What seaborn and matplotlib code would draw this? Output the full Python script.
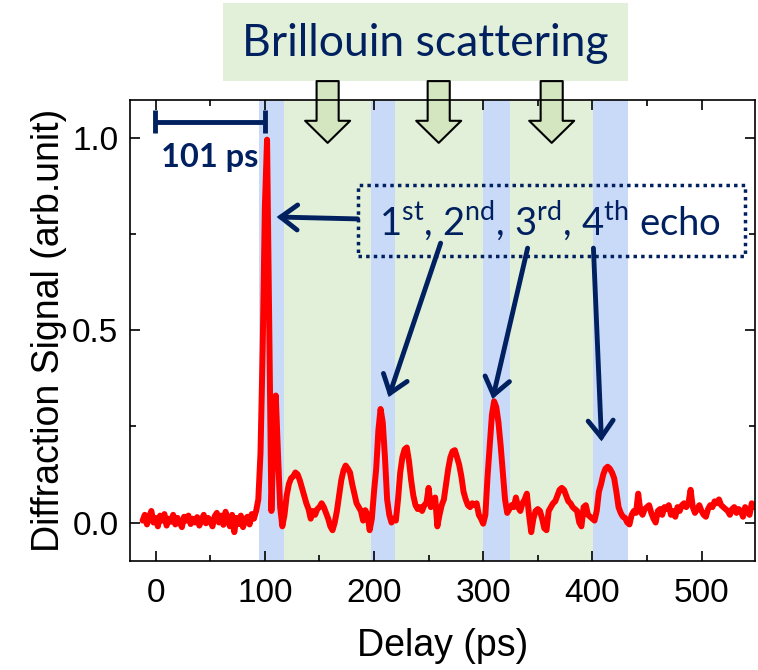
import numpy as np
import pandas as pd
import seaborn as sns
import matplotlib.pyplot as plt
from matplotlib.patches import Rectangle
from matplotlib.ticker import MultipleLocator

# diffraction signal, every 2 ps starting at -12 ps
signal = [
    0.005, 0.020, -0.005, 0.015, 0.030, 0.000, 0.012, -0.010, 0.018, 0.005,
    0.022, -0.008, 0.010, 0.002, 0.020, -0.005, 0.012, 0.000, -0.012, 0.015,
    0.005, 0.018, -0.004, 0.010, 0.000, 0.014, -0.008, 0.006, 0.020, -0.002,
    0.012, 0.004, -0.010, 0.016, 0.025, 0.000, 0.018, -0.006, 0.028, 0.008,
    -0.010, 0.020, -0.025, 0.012, -0.004, 0.018, -0.012, 0.008, 0.015, -0.005,
    0.022, 0.010, 0.030, 0.060, 0.180, 0.450, 0.820, 0.995, 0.500, 0.030,
    0.220, 0.330, 0.180, 0.040, -0.010, 0.020, 0.070, 0.100, 0.115, 0.120,
    0.130, 0.125, 0.110, 0.090, 0.070, 0.050, 0.035, 0.010, 0.030, 0.020,
    0.035, 0.040, 0.050, 0.040, 0.025, 0.010, -0.010, -0.020, 0.000, 0.030,
    0.070, 0.110, 0.135, 0.148, 0.140, 0.130, 0.100, 0.075, 0.050, 0.040,
    0.030, 0.005, 0.032, 0.020, -0.020, 0.010, 0.080, 0.140, 0.240, 0.295,
    0.260, 0.170, 0.060, 0.020, 0.000, 0.010, 0.005, 0.060, 0.130, 0.170,
    0.190, 0.195, 0.160, 0.110, 0.070, 0.045, 0.035, 0.040, 0.030, 0.045,
    0.050, 0.090, 0.040, 0.060, 0.065, -0.010, 0.020, 0.045, 0.060, 0.100,
    0.140, 0.170, 0.185, 0.188, 0.170, 0.150, 0.120, 0.080, 0.060, 0.045,
    0.040, 0.050, 0.045, 0.050, 0.020, 0.010, -0.003, 0.020, 0.120, 0.200,
    0.280, 0.315, 0.300, 0.260, 0.200, 0.130, 0.060, 0.025, 0.035, 0.045,
    0.040, 0.065, 0.040, 0.030, 0.050, 0.060, 0.075, 0.020, -0.025, 0.010,
    0.030, 0.035, 0.030, 0.010, -0.015, -0.020, 0.030, 0.040, 0.050, 0.055,
    0.070, 0.085, 0.090, 0.085, 0.070, 0.055, 0.050, 0.040, 0.035, 0.030,
    0.000, -0.010, 0.040, 0.045, 0.020, 0.015, 0.010, 0.005, 0.030, 0.080,
    0.100, 0.125, 0.140, 0.145, 0.140, 0.130, 0.115, 0.080, 0.040, 0.025,
    0.015, 0.012, 0.000, -0.005, 0.020, 0.030, 0.025, 0.075, 0.030, 0.020,
    0.035, 0.040, 0.045, 0.025, 0.010, 0.000, 0.030, 0.035, 0.020, 0.040,
    0.035, 0.045, 0.020, 0.030, 0.015, 0.040, 0.030, 0.045, 0.050, 0.040,
    0.050, 0.085, 0.040, 0.025, 0.035, 0.045, 0.030, 0.020, 0.015, 0.035,
    0.045, 0.040, 0.055, 0.050, 0.060, 0.045, 0.040, 0.035, 0.030, 0.020,
    0.035, 0.040, 0.025, 0.035, 0.030, 0.015, 0.040, 0.030, 0.020, 0.050,
    0.040,
]
delay = -12 + 2 * np.arange(len(signal))
df = pd.DataFrame({"delay": delay, "signal": signal})

# echo windows (blue), Brillouin windows (green) lie between them
echo_bands = [(95, 117.5), (197.5, 219), (299.5, 325), (400.5, 432.5)]
# echo arrows: (tail x, tail y, tip x, tip y)
echo_arrows = [(185, 0.789, 110.8, 0.794),
               (261, 0.726, 213.4, 0.326),
               (340.7, 0.713, 308.6, 0.321),
               (401, 0.713, 408.4, 0.211)]
scale_bar = (-1, 100)

navy = "#002060"
blue = "#c9daf8"
green = "#e2f0d9"

sns.set_theme(style="ticks")
plt.rcParams["font.family"] = ["Liberation Sans", "DejaVu Sans"]
plt.rcParams["mathtext.fontset"] = "custom"
plt.rcParams["mathtext.rm"] = "Lato"
for key in ["text.color", "axes.labelcolor", "xtick.color", "ytick.color"]:
    plt.rcParams[key] = "black"

fig = plt.figure(figsize=(7.58, 6.70), dpi=100)
ax = fig.add_axes([129.5 / 758, 1 - 561 / 670, 625.5 / 758, 461 / 670])

for a, b in echo_bands:
    ax.axvspan(a, b, color=blue, lw=0, zorder=0)
for (a0, b0), (a1, b1) in zip(echo_bands[:-1], echo_bands[1:]):
    ax.axvspan(b0, a1, color=green, lw=0, zorder=0)

sns.lineplot(data=df, x="delay", y="signal", color="red", lw=4.3, ax=ax,
             estimator=None, zorder=3)

ax.set_xlim(-24, 549)
ax.set_ylim(-0.1, 1.098)
ax.xaxis.set_major_locator(MultipleLocator(100))
ax.xaxis.set_minor_locator(MultipleLocator(50))
ax.yaxis.set_major_locator(MultipleLocator(0.5))
ax.yaxis.set_minor_locator(MultipleLocator(0.25))
ax.tick_params(which="both", direction="in", top=True, right=True,
               labelsize=24, width=1.2, color="black", labelcolor="black")
ax.tick_params(which="major", length=7)
ax.tick_params(which="minor", length=4)
ax.tick_params(axis="x", pad=12)
ax.tick_params(axis="y", pad=8)
for s in ax.spines.values():
    s.set_linewidth(1.2)
    s.set_color("black")
    s.set_zorder(5)
ax.set_xlabel("Delay (ps)", fontsize=27, labelpad=14, color="black")
ax.set_ylabel("Diffraction Signal (arb.unit)", fontsize=27, labelpad=4, color="black")

# Brillouin label box above the axes
trans = ax.get_xaxis_transform()
box_x0 = 62
box_x1 = echo_bands[-1][1]
ax.add_patch(Rectangle((box_x0, 1.041), box_x1 - box_x0, 0.17, transform=trans,
                       facecolor=green, edgecolor="none", clip_on=False, zorder=1))
ax.text((box_x0 + box_x1) / 2, 1.123, "Brillouin scattering", transform=trans,
        ha="center", va="center", fontsize=32, color=navy, family="Lato")
for (a0, b0), (a1, b1) in zip(echo_bands[:-1], echo_bands[1:]):
    xc = (b0 + a1) / 2
    ax.annotate("", xy=(xc, 0.907), xytext=(xc, 1.041), xycoords=trans,
                textcoords=trans, annotation_clip=False,
                arrowprops=dict(arrowstyle="simple,head_length=0.53,head_width=1.08,tail_width=0.53",
                                mutation_scale=30, fc="#d3e6bf", ec="black", lw=1.5,
                                shrinkA=0, shrinkB=0), zorder=4)

# 101 ps scale bar
ax.plot(scale_bar, [1.042, 1.042], color=navy, lw=3.5, solid_capstyle="butt", zorder=4)
for xb in scale_bar:
    ax.plot([xb, xb], [1.012, 1.072], color=navy, lw=3.5, solid_capstyle="butt", zorder=4)
ax.text(49.4, 0.923, "101 ps", ha="center", va="baseline", fontsize=23.5,
        fontweight="bold", color=navy, family="Lato", zorder=4)

# echo label with dotted box
ax.add_patch(Rectangle((185, 0.692), 354.4, 0.185, facecolor="none", edgecolor=navy,
                       lw=2.5, linestyle=(0, (1, 1.2)), clip_on=False, zorder=4))
ax.text(360.8, 0.747, r"1$^{\mathrm{st}}$, 2$^{\mathrm{nd}}$, 3$^{\mathrm{rd}}$, 4$^{\mathrm{th}}$ echo",
        ha="center", va="baseline", fontsize=27.5, color=navy, family="Lato", zorder=4)
for x0, y0, x1, y1 in echo_arrows:
    ax.annotate("", xy=(x1, y1), xytext=(x0, y0),
                arrowprops=dict(arrowstyle="->,head_length=0.6,head_width=0.45",
                                mutation_scale=20, color=navy, lw=3.5,
                                shrinkA=0, shrinkB=0, capstyle="round",
                                joinstyle="miter"), zorder=4)

fig.savefig("out.png", dpi=100)
